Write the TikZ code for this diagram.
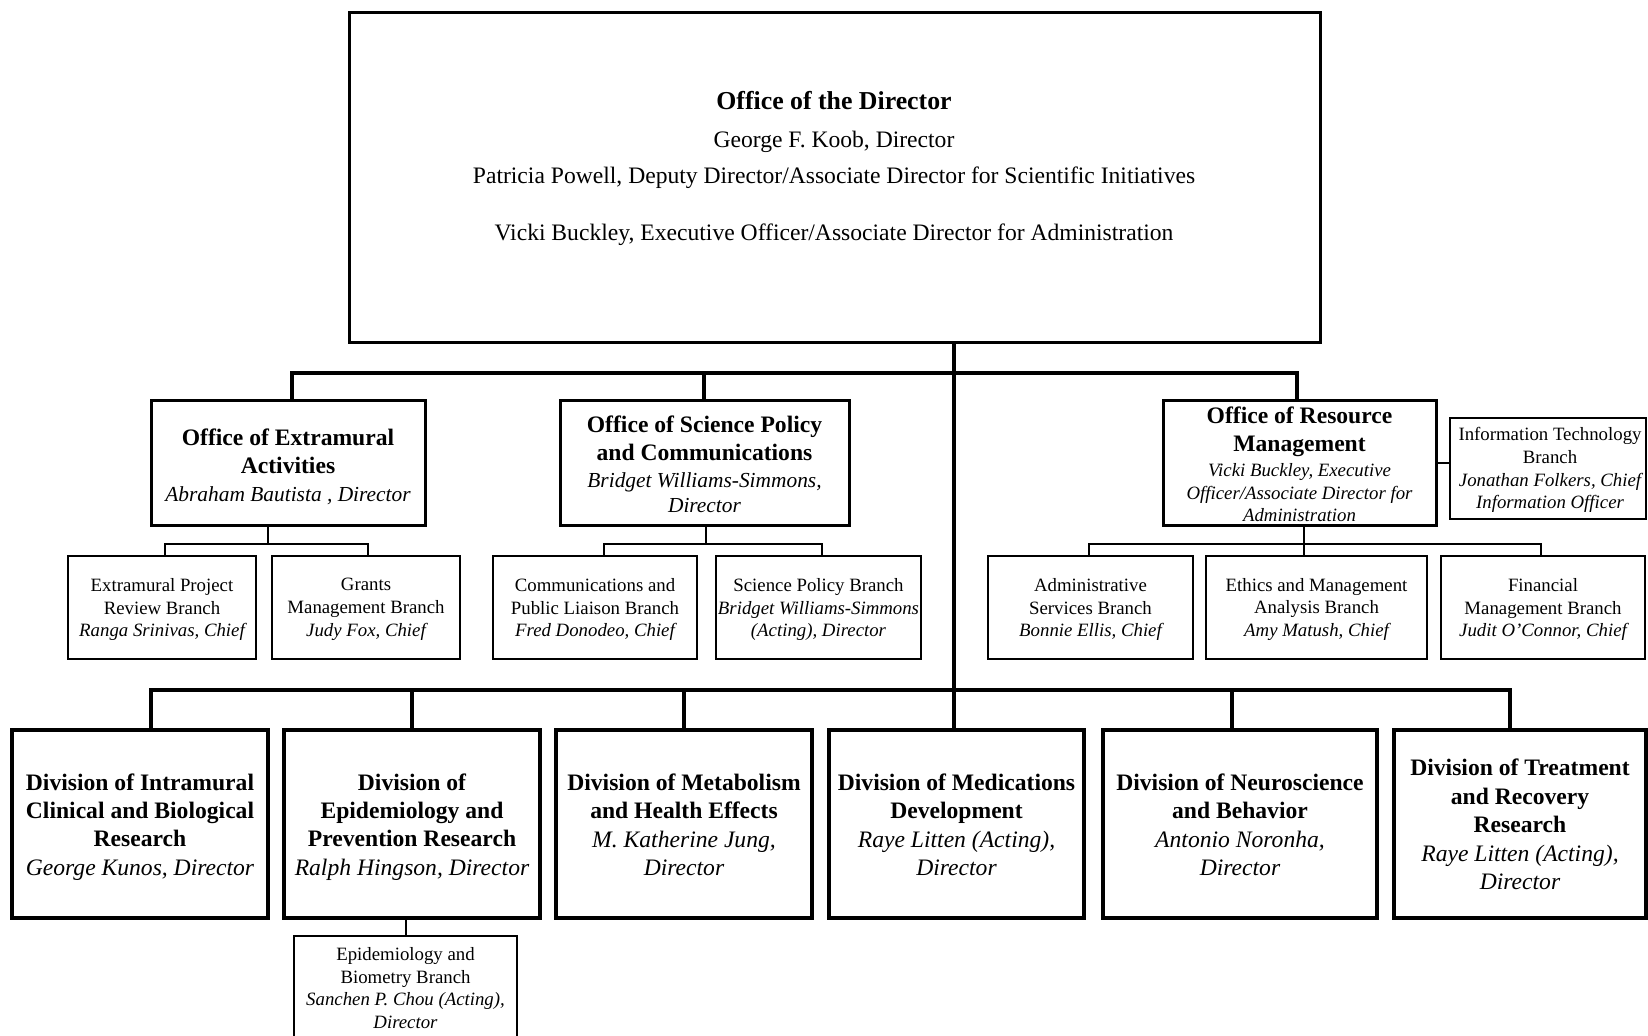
\documentclass[tikz,border=0pt]{standalone}
\usepackage{fontspec}
\setmainfont{Liberation Serif}
\usetikzlibrary{fit}
\newcommand\TopB{\fontsize{12.9}{18}\selectfont\bfseries}
\newcommand\TopR{\fontsize{11.8}{18}\selectfont}
\newcommand\BigB{\fontsize{11.8}{14}\selectfont\bfseries}
\newcommand\DivI{\fontsize{11.8}{14}\selectfont\itshape}
\newcommand\OffI{\fontsize{10.7}{14}\selectfont\itshape}
\newcommand\SmR{\fontsize{9.4}{11.4}\selectfont}
\newcommand\SmI{\fontsize{9.4}{11.4}\selectfont\itshape}
\begin{document}
\begin{tikzpicture}[x=0.5pt,y=-0.5pt,
  box/.style={draw,line width=1.5pt,inner sep=0pt},
  divbox/.style={box,line width=1.7pt},
  subbox/.style={box,line width=1.4pt},
  lbl/.style={align=center,inner sep=0pt},
  divtext/.style={lbl,font=\fontsize{11.8}{14.2}\selectfont},
  offtext/.style={lbl,font=\fontsize{11.8}{14}\selectfont},
  subtext/.style={lbl,font=\fontsize{9.4}{11.4}\selectfont},
  major/.style={line width=2pt,line join=miter},
  minor/.style={line width=1pt,line join=miter},
]
\useasboundingbox (0,0) rectangle (1648,1036);
\fill[white] (0,0) rectangle (1648,1036);

% ---------- boxes ----------
\node[box,fit={(349,13) (1320,343)}] (top) {};
\node[box,fit={(151,401) (425,526)}] (oea) {};
\node[box,fit={(560,401) (849,526)}] (ospc) {};
\node[box,fit={(1163,401) (1436,526)}] (orm) {};
\node[subbox,fit={(1450,418) (1646,519)}] (it) {};
\node[subbox,fit={(68,556) (256,659)}] (eprb) {};
\node[subbox,fit={(272,556) (460,659)}] (gmb) {};
\node[subbox,fit={(493,556) (697,659)}] (cplb) {};
\node[subbox,fit={(716,556) (921,659)}] (spb) {};
\node[subbox,fit={(988,556) (1193,659)}] (asb) {};
\node[subbox,fit={(1206,556) (1427,659)}] (emab) {};
\node[subbox,fit={(1441,556) (1645,659)}] (fmb) {};
\node[divbox,fit={(12,730) (268,918)}] (dicbr) {};
\node[divbox,fit={(284,730) (540,918)}] (depr) {};
\node[divbox,fit={(556,730) (812,918)}] (dmhe) {};
\node[divbox,fit={(829,730) (1084,918)}] (dmd) {};
\node[divbox,fit={(1103,730) (1377,918)}] (dnb) {};
\node[divbox,fit={(1394,730) (1646,918)}] (dtrr) {};
\node[subbox,fit={(294,936) (517,1042)}] (ebb) {};

% ---------- texts ----------
\node[lbl,font=\fontsize{11.8}{18}\selectfont] (topT) at (834,168.5)
 {{\TopB Office of the Director}\\[1pt]
  {\TopR George F. Koob, Director}\\
  {\TopR Patricia Powell, Deputy Director/Associate Director for Scientific Initiatives}\\[10.5pt]
  {\TopR Vicki Buckley, Executive Officer/Associate Director for Administration}};

\node[offtext] (oeaT) at (288,466.5)
 {{\BigB Office of Extramural}\\
  {\BigB Activities}\\
  {\OffI Abraham Bautista , Director}};
\node[offtext] (ospcT) at (704.5,464.5)
 {{\BigB Office of Science Policy}\\
  {\BigB and Communications}\\[-0.5pt]
  {\OffI Bridget Williams-Simmons,}\\[-1.3pt]
  {\OffI Director}};
\node[offtext] (ormT) at (1299.5,464.3)
 {{\BigB Office of Resource}\\
  {\BigB Management}\\[-1.3pt]
  {\SmI Vicki Buckley, Executive}\\[-2.5pt]
  {\SmI Officer/Associate Director for}\\[-3pt]
  {\SmI Administration}};
\node[subtext] (itT) at (1550,470)
 {{\SmR Information Technology}\\
  {\SmR Branch}\\
  {\SmI Jonathan Folkers, Chief}\\
  {\SmI Information Officer}};

\node[subtext] (eprbT) at (162,609.5)
 {{\SmR Extramural Project}\\{\SmR Review Branch}\\{\SmI Ranga Srinivas, Chief}};
\node[subtext] (gmbT) at (366,609.5)
 {{\SmR Grants}\\{\SmR Management Branch}\\{\SmI Judy Fox, Chief}};
\node[subtext] (cplbT) at (595,609.5)
 {{\SmR Communications and}\\{\SmR Public Liaison Branch}\\{\SmI Fred Donodeo, Chief}};
\node[subtext] (spbT) at (818.5,609.5)
 {{\SmR Science Policy Branch}\\{\SmI Bridget Williams-Simmons}\\{\SmI (Acting), Director}};
\node[subtext] (asbT) at (1090.5,609.5)
 {{\SmR Administrative}\\{\SmR Services Branch}\\{\SmI Bonnie Ellis, Chief}};
\node[subtext] (emabT) at (1316.5,609.5)
 {{\SmR Ethics and Management}\\{\SmR Analysis Branch}\\{\SmI Amy Matush, Chief}};
\node[subtext] (fmbT) at (1543,609.5)
 {{\SmR Financial}\\{\SmR Management Branch}\\{\SmI Judit O’Connor, Chief}};

\node[divtext] (dicbrT) at (140,827)
 {{\BigB Division of Intramural}\\{\BigB Clinical and Biological}\\{\BigB Research}\\{\DivI George Kunos, Director}};
\node[divtext] (deprT) at (412,827)
 {{\BigB Division of}\\{\BigB Epidemiology and}\\{\BigB Prevention Research}\\{\DivI Ralph Hingson, Director}};
\node[divtext] (dmheT) at (684,825)
 {{\BigB Division of Metabolism}\\{\BigB and Health Effects}\\{\DivI M. Katherine Jung,}\\{\DivI Director}};
\node[divtext] (dmdT) at (956.5,825)
 {{\BigB Division of Medications}\\{\BigB Development}\\{\DivI Raye Litten (Acting),}\\{\DivI Director}};
\node[divtext] (dnbT) at (1240,825)
 {{\BigB Division of Neuroscience}\\{\BigB and Behavior}\\{\DivI Antonio Noronha,}\\{\DivI Director}};
\node[divtext] (dtrrT) at (1520,824.5)
 {{\BigB Division of Treatment}\\{\BigB and Recovery}\\{\BigB Research}\\{\DivI Raye Litten (Acting),}\\{\DivI Director}};
\node[subtext] (ebbT) at (405.5,988)
 {{\SmR Epidemiology and}\\{\SmR Biometry Branch}\\{\SmI Sanchen P. Chou (Acting),}\\{\SmI Director}};

% ---------- junction points ----------
\coordinate (uL) at (292,373);
\coordinate (uM) at (704,373);
\coordinate (uR) at (1297,373);
\coordinate (lL) at (151,689.5);
\coordinate (lR) at (1510,689.5);
\coordinate (lM) at (954,689.5);
\coordinate (d2) at (412,689.5);
\coordinate (d3) at (684,689.5);
\coordinate (d5) at (1232,689.5);
\coordinate (oeaL) at (165,544);
\coordinate (oeaM) at (268,544);
\coordinate (oeaR) at (368,544);
\coordinate (ospcL) at (604,544);
\coordinate (ospcM) at (705.7,544);
\coordinate (ospcR) at (822,544);
\coordinate (ormL) at (1089,544);
\coordinate (ormM) at (1304,544);
\coordinate (ormR) at (1541,544);

% ---------- connectors ----------
\draw[major] (top.south -| lM) -- (dmd.north -| lM);
\draw[major] (oea.north -| uL) -- (uL) -- (uR) -- (orm.north -| uR);
\draw[major] (uM) -- (ospc.north -| uM);
\draw[major] (dicbr.north -| lL) -- (lL) -- (lR) -- (dtrr.north -| lR);
\draw[major] (d2) -- (depr.north -| d2);
\draw[major] (d3) -- (dmhe.north -| d3);
\draw[major] (d5) -- (dnb.north -| d5);

\draw[minor] (oea.south -| oeaM) -- (oeaM);
\draw[minor] (eprb.north -| oeaL) -- (oeaL) -- (oeaR) -- (gmb.north -| oeaR);
\draw[minor] (ospc.south -| ospcM) -- (ospcM);
\draw[minor] (cplb.north -| ospcL) -- (ospcL) -- (ospcR) -- (spb.north -| ospcR);
\draw[minor] (orm.south -| ormM) -- (emab.north -| ormM);
\draw[minor] (asb.north -| ormL) -- (ormL) -- (ormR) -- (fmb.north -| ormR);
\draw[minor] (orm.east) -- (orm.east -| it.west);
\draw[minor] (depr.south -| ebb.north) -- (ebb.north);
\end{tikzpicture}
\end{document}
